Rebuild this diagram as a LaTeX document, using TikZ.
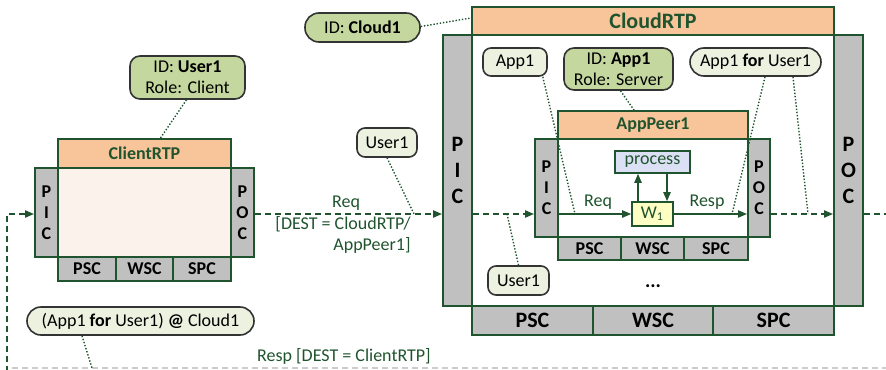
\documentclass[tikz,border=0pt]{standalone}
\usepackage{fontspec}
\setmainfont{Carlito}
\usetikzlibrary{arrows.meta}
\definecolor{rtpgreen}{RGB}{31,84,46}
\definecolor{rtporange}{RGB}{248,196,154}
\definecolor{rtpgray}{RGB}{192,192,192}
\definecolor{rtpbody}{RGB}{252,242,236}
\definecolor{idgreen}{RGB}{196,215,158}
\definecolor{tagfill}{RGB}{236,241,224}
\definecolor{procfill}{RGB}{220,224,244}
\definecolor{workfill}{RGB}{255,255,196}

\begin{document}
\begin{tikzpicture}[
        x=0.5pt, y=-0.5pt,
        font=\fontsize{9}{10.5}\selectfont,
        frame/.style={draw=rtpgreen, line width=1pt, inner sep=0pt},
        header/.style={frame, fill=rtporange, text=rtpgreen,
            font=\fontsize{9}{10.5}\selectfont\bfseries},
        column/.style={frame, fill=rtpgray, align=center,
            font=\fontsize{9}{10.5}\selectfont\bfseries},
        slot/.style={frame, fill=rtpgray,
            font=\fontsize{9}{10.5}\selectfont\bfseries},
        big/.style={font=\fontsize{11}{13}\selectfont\bfseries},
        idbox/.style={draw=black!80, fill=idgreen, line width=0.8pt,
            rounded corners=5pt, align=center, inner sep=0pt},
        tag/.style={draw=black!80, fill=tagfill, line width=0.8pt,
            rounded corners=4pt, inner sep=0pt},
        pill/.style={tag, rounded corners=7pt},
        flow/.style={draw=rtpgreen, line width=0.8pt, dash pattern=on 3pt off 2pt,
            -{Triangle[length=4.5pt,width=3.6pt]}},
        work/.style={draw=rtpgreen, line width=0.8pt,
            -{Triangle[length=4.5pt,width=3.6pt]}},
        link/.style={draw=rtpgreen, line width=0.7pt, dash pattern=on 0.7pt off 0.9pt},
        lbl/.style={text=rtpgreen, inner sep=0pt}
    ]
    \useasboundingbox (0,0) rectangle (886,369);

    % client side
    \node[frame, fill=rtpbody, minimum width=109.5pt, minimum height=44.5pt] (client) at (144.5,212.5) {};
    \node[header, minimum width=86.5pt, minimum height=14.5pt] (clientHead) at (144.5,153.5) {ClientRTP};
    \node[column, minimum width=11.5pt, minimum height=44.5pt] (clientPIC) at (46.5,212.5) {P\\I\\C};
    \node[column, minimum width=11.5pt, minimum height=44.5pt] (clientPOC) at (242.5,212.5) {P\\O\\C};
    \node[slot, minimum width=29pt, minimum height=12pt] (clientPSC) at (87,269) {PSC};
    \node[slot, minimum width=28.5pt, minimum height=12pt] (clientWSC) at (144.5,269) {WSC};
    \node[slot, minimum width=29pt, minimum height=12pt] (clientSPC) at (202,269) {SPC};

    % cloud side
    \node[frame, fill=white, minimum width=210pt, minimum height=135.5pt] (cloud) at (653,170.5) {};
    \node[header, big, minimum width=181pt, minimum height=14pt] (cloudHead) at (653,21) {CloudRTP};
    \node[column, big, minimum width=14.5pt, minimum height=135.5pt] (cloudPIC) at (457.5,170.5) {P\\I\\C};
    \node[column, big, minimum width=14.5pt, minimum height=135.5pt] (cloudPOC) at (848.5,170.5) {P\\O\\C};
    \node[slot, big, minimum width=60.5pt, minimum height=14.5pt] (cloudPSC) at (532.5,320.5) {PSC};
    \node[slot, big, minimum width=60pt, minimum height=14.5pt] (cloudWSC) at (653,320.5) {WSC};
    \node[slot, big, minimum width=60.5pt, minimum height=14.5pt] (cloudSPC) at (773.5,320.5) {SPC};

    % app peer
    \node[frame, fill=white, minimum width=117.5pt, minimum height=49pt] (peer) at (652.5,188) {};
    \node[header, minimum width=95pt, minimum height=14pt] (peerHead) at (653,125) {AppPeer1};
    \node[column, minimum width=11.5pt, minimum height=49pt] (peerPIC) at (546.5,188) {P\\I\\C};
    \node[column, minimum width=11pt, minimum height=49pt] (peerPOC) at (759,188) {P\\O\\C};
    \node[slot, minimum width=31.5pt, minimum height=11.5pt] (peerPSC) at (589.5,248.5) {PSC};
    \node[slot, minimum width=31.5pt, minimum height=11.5pt] (peerWSC) at (652.5,248.5) {WSC};
    \node[slot, minimum width=32pt, minimum height=11.5pt] (peerSPC) at (716,248.5) {SPC};
    \node[frame, fill=procfill, text=rtpgreen, line width=0.8pt, minimum width=37.5pt, minimum height=11pt] (proc) at (652.5,162) {process};
    \node[frame, fill=workfill, text=rtpgreen, line width=0.8pt, minimum width=20.5pt, minimum height=12pt] (w1) at (652.5,214) {W\textsubscript{1}};
    \node[font=\bfseries] (more) at (653,286) {...};

    % identities and tags
    \node[idbox, minimum width=57.5pt, minimum height=21.5pt] (idUser) at (187.5,77.5) {ID: \textbf{User1}\\Role: Client};
    \node[idbox, rounded corners=7pt, minimum width=57.5pt, minimum height=14.5pt] (idCloud) at (362.5,27.5) {ID: \textbf{Cloud1}};
    \node[idbox, minimum width=54.5pt, minimum height=21pt] (idApp) at (618.5,69) {ID: \textbf{App1}\\Role: Server};
    \node[tag, minimum width=30pt, minimum height=14.5pt] (tagUserA) at (387,142.5) {User1};
    \node[tag, minimum width=32pt, minimum height=14pt] (tagApp) at (515,62) {App1};
    \node[pill, minimum width=65.5pt, minimum height=14pt] (tagAppUser) at (755.5,62) {App1 \textbf{for} User1};
    \node[tag, minimum width=30.5pt, minimum height=14.5pt] (tagUserB) at (518.5,280.5) {User1};
    \node[pill, minimum width=113.5pt, minimum height=14pt] (tagRet) at (140.5,321) {(App1 \textbf{for} User1) \textbf{@} Cloud1};

    % message labels
    \node[lbl] (reqLbl) at (346,203) {Req};
    \node[lbl, align=right] (destLbl) at (343,235) {[DEST = CloudRTP/\\AppPeer1]};
    \node[lbl] (peerReq) at (598,202) {Req};
    \node[lbl] (peerResp) at (707,202) {Resp};
    \node[lbl] (retLbl) at (344,356) {Resp [DEST = ClientRTP]};

    \coordinate (flowline) at (0,214);
    \coordinate (retTop) at (7,214);
    \coordinate (retBot) at (7,372);
    \coordinate (retLeft) at (12,368);
    \coordinate (retRight) at (886,368);
    \coordinate (outR) at (890,214);
    \coordinate (reqOut) at (414,214);
    \coordinate (cloudIn) at (507,214);
    \coordinate (reqIn) at (575,214);
    \coordinate (respIn) at (732,214);
    \coordinate (respOut) at (808,214);
    \coordinate (retLink) at (92,368);

    \draw[flow] (retBot) -- (retTop) -- (clientPIC.west |- flowline);
    \draw[flow] (clientPOC.east |- flowline) -- (cloudPIC.west |- flowline);
    \draw[flow] (cloudPIC.east |- flowline) -- (peerPIC.west |- flowline);
    \draw[work] (peerPIC.east |- flowline) -- (w1.west);
    \draw[work] (w1.east) -- (peerPOC.west |- flowline);
    \draw[flow] (peerPOC.east |- flowline) -- (cloudPOC.west |- flowline);
    \draw[flow, -] (cloudPOC.east |- flowline) -- (outR);
    \draw[draw=black!20, line width=0.8pt, dash pattern=on 3pt off 2pt] (retLeft) -- (retRight);
    \draw[work] ([xshift=-7.25pt]w1.north) -- ([xshift=-7.25pt]w1.north |- proc.south);
    \draw[work] ([xshift=7.25pt]w1.north |- proc.south) -- ([xshift=7.25pt]w1.north);

    \draw[link] ([yshift=0.5pt]idCloud.east) -- ([yshift=1.5pt]cloudHead.west);
    \draw[link] ([xshift=-0.5pt]idUser.south) -- ([xshift=8pt]clientHead.north);
    \draw[link] ([xshift=1pt]idApp.south) -- ([xshift=-9.5pt]peerHead.north);
    \draw[link] ([xshift=-2.5pt]tagApp.south east) -- (reqIn);
    \draw[link] ([xshift=4.75pt]tagAppUser.south) -- (respIn);
    \draw[link] ([xshift=18.75pt]tagAppUser.south) -- (respOut);
    \draw[link] (tagUserA.south) -- (reqOut);
    \draw[link] (tagUserB.north) -- (cloudIn);
    \draw[link] ([xshift=-29.25pt]tagRet.south) -- (retLink);
\end{tikzpicture}
\end{document}
